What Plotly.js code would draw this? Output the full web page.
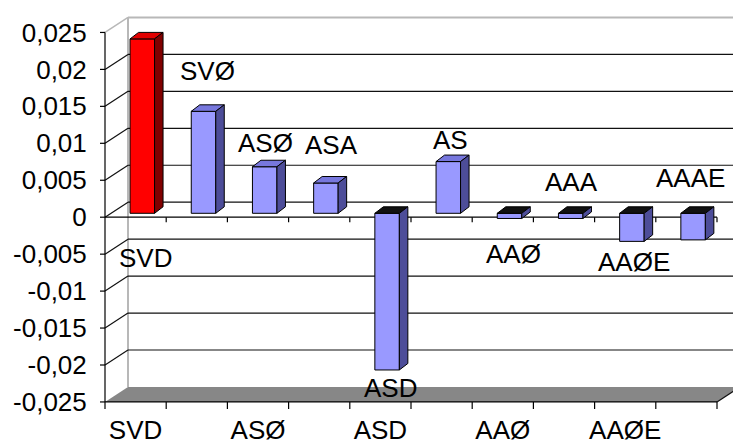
<!DOCTYPE html>
<html>
<head>
<meta charset="utf-8">
<script src="https://cdn.plot.ly/plotly-3.0.1.min.js"></script>
<style>html,body{margin:0;padding:0;background:#fff;}#chart{width:733px;height:446px;}</style>
</head>
<body>
<div id="chart"></div>
<script>
// ---- data ----
const categories = ['SVD','SVØ','ASØ','ASA','ASD','AS','AAØ','AAA','AAØE','AAAE'];
const values = [0.0236, 0.0138, 0.0063, 0.0041, -0.0212, 0.0070, -0.0007, -0.0007, -0.0038, -0.0036];
const yTickVals = [-0.025,-0.02,-0.015,-0.01,-0.005,0,0.005,0.01,0.015,0.02,0.025];
const yTickText = ['-0,025','-0,02','-0,015','-0,01','-0,005','0','0,005','0,01','0,015','0,02','0,025'];
const xTickText = ['SVD','ASØ','ASD','AAØ','AAØE'];
const highlighted = 'SVD';

// ---- label offsets (px) relative to each bar value ----
const labelShift = [[9.4,-215.2],[10.2,44.2],[7,27.6],[11.8,41.9],[9.6,-14.1],[8.4,25.5],[10.2,-31.6],[7,40.4],[8.8,-16.7],[3.6,65.8]];

// ---- geometry (pixels) ----
const L = 99, R = 733, T = 10, B = 412, H = 446;
const frontX0 = 105, zeroPx = 217.2, pxPerCat = 61.2, pxPerUnit = 7390;
const ux = 1/pxPerCat, uy = 1/pxPerUnit;
const xRange = [(L-frontX0)*ux, (R-frontX0)*ux];
const yRange = [(zeroPx-B)*uy, (zeroPx-T)*uy];
const DX = 23*ux, DY = 15*uy;           // wall depth
const barOff = 6.7*ux, barW = 24.5*ux, barBase = 3.9*uy;
const bdx = 8.5*ux, bdy = 6.5*uy;       // bar depth
const n = categories.length;
const yMin = yTickVals[0], yMax = yTickVals[yTickVals.length-1];
const FONT = {family:'"Liberation Sans", Arial, sans-serif', size:26, color:'#000'};

const shapes = [];
function line(x0,y0,x1,y1,color,width,layer){shapes.push({type:'line',xref:'x',yref:'y',x0:x0,y0:y0,x1:x1,y1:y1,line:{color:color,width:width},layer:layer||'below'});}
function poly(pts,fill,lc,lw,layer){shapes.push({type:'path',xref:'x',yref:'y',path:'M'+pts.map(p=>p[0]+','+p[1]).join(' L')+' Z',fillcolor:fill,line:{color:lc,width:lw},layer:layer||'below'});}

// floor
poly([[0,yMin],[n,yMin],[n+DX,yMin+DY],[DX,yMin+DY]],'#878787','#878787',0);
// back wall borders
line(DX,yMin+DY,DX,yMax+DY,'#b8b8b8',2);
line(DX,yMax+DY,xRange[1]+1,yMax+DY,'#b8b8b8',2);
line(0,yMax,DX,yMax+DY,'#b8b8b8',1.5);
// gridlines and side-wall diagonals
yTickVals.forEach(v=>{
  if (v>yMin && v<yMax){
    line(DX,v+DY,xRange[1]+1,v+DY,'#111',1.2);
    line(0,v,DX,v+DY,'#111',1.2);
  }
});
// floor right edge
line(n,yMin,n+DX,yMin+DY,'#111',1.2);
// front value axis
line(0,yMin-7*uy,0,yMax,'#000',1.2);
yTickVals.forEach(v=>line(-5*ux,v,0,v,'#000',1.2));
// zero category axis with ticks
line(0,0,n,0,'#000',1.2);
for(let k=1;k<=n;k++) line(k,0,k,-5*uy,'#000',1.2);
// bottom category axis with ticks
line(0,yMin,n,yMin,'#000',1.2);
for(let k=1;k<=n;k++) line(k,yMin,k,yMin-7*uy,'#000',1.2);

// bars
const xs = categories.map((c,i)=>i+0.5+barOff);
const fronts = categories.map(c=>c===highlighted?'#ff0000':'#9999ff');
categories.forEach((c,i)=>{
  const red = c===highlighted;
  const side = red?'#800000':'#4d4d99';
  const top = red?'#e00000':'#7777dd';
  const x0 = xs[i]-barW/2, x1 = xs[i]+barW/2;
  const b = barBase, t = barBase+values[i];
  if (values[i]>=0){
    poly([[x0,t],[x1,t],[x1+bdx,t+bdy],[x0+bdx,t+bdy]],top,'#000',1,'above');
    poly([[x1,b],[x1,t],[x1+bdx,t+bdy],[x1+bdx,b+bdy]],side,'#000',1,'above');
  } else {
    poly([[x0,b],[x1,b],[x1+bdx,b+bdy],[x0+bdx,b+bdy]],'#111','#000',1,'above');
    poly([[x1,t],[x1,b],[x1+bdx,b+bdy],[x1+bdx,t+bdy]],side,'#000',1,'above');
  }
});

const trace = {
  type:'bar', x: xs, y: values, base: barBase, width: barW,
  marker:{color: fronts, line:{color:'#000', width:1}},
  hoverinfo:'skip', showlegend:false
};

const annotations = categories.map((c,i)=>({
  x: i+0.5, y: values[i], xref:'x', yref:'y', text: c, showarrow:false,
  xanchor:'center', yanchor:'middle', xshift: labelShift[i][0], yshift: labelShift[i][1],
  font: FONT
}));

const xTickVals = categories.map((c,i)=>i+0.5).filter((v,i)=>i%2===0);

const layout = {
  width:733, height:446,
  margin:{l:L, r:733-R, t:T, b:H-B, pad:0},
  paper_bgcolor:'#fff', plot_bgcolor:'#fff',
  showlegend:false,
  xaxis:{range:xRange, showgrid:false, zeroline:false, showline:false, ticks:'',
         tickmode:'array', tickvals:xTickVals, ticktext:xTickText, tickfont:FONT},
  yaxis:{range:yRange, showgrid:false, zeroline:false, showline:false,
         ticks:'outside', ticklen:6, tickcolor:'rgba(0,0,0,0)',
         tickmode:'array', tickvals:yTickVals, ticktext:yTickText, tickfont:FONT},
  shapes: shapes,
  annotations: annotations
};

Plotly.newPlot('chart',[trace],layout,{staticPlot:true});
</script>
</body>
</html>
